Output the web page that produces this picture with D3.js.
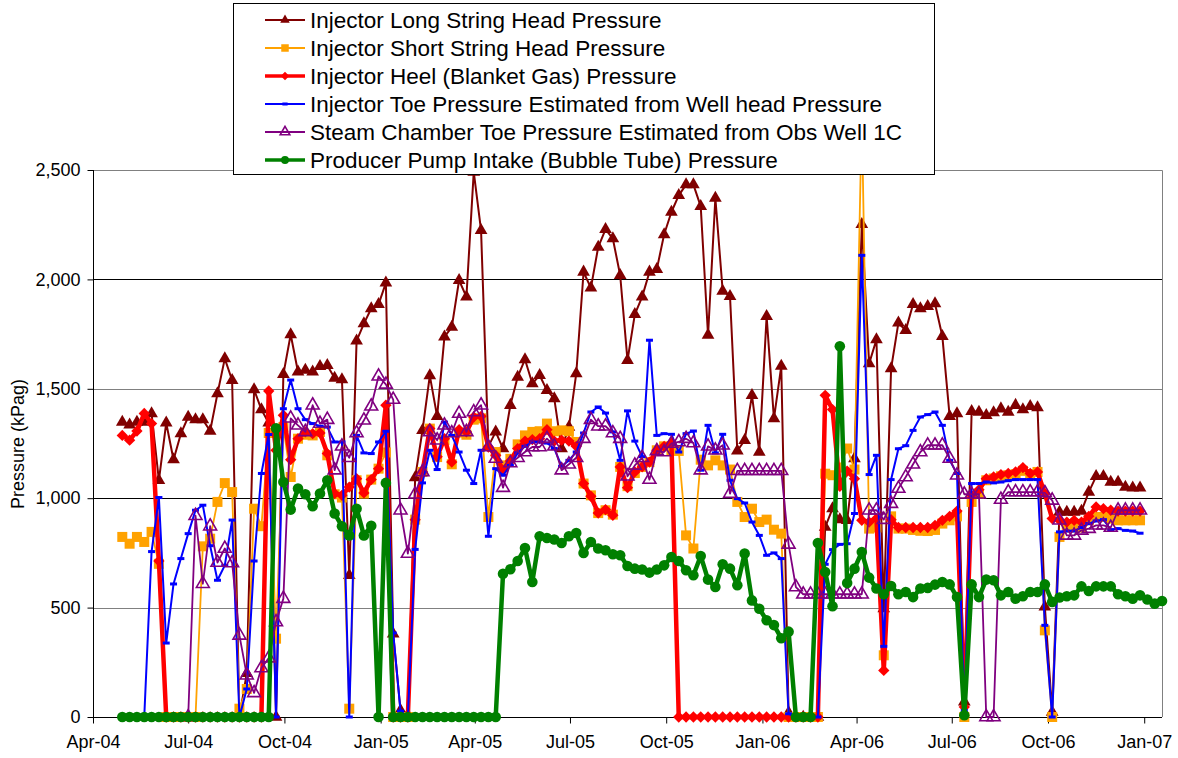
<!DOCTYPE html>
<html>
<head>
<meta charset="utf-8">
<script src="https://cdn.jsdelivr.net/npm/d3@7"></script>
<style>
  body { margin: 0; background: #fff; }
  text { font-family: "Liberation Sans", Arial, sans-serif; }
</style>
</head>
<body>
<script>
// weekly readings, first one on 29 Apr 2004
const firstReading = new Date(2004, 3, 29);
const readingCount = 143;

const seriesNames = [
  'Injector Long String Head Pressure',
  'Injector Short String Head Pressure',
  'Injector Heel (Blanket Gas) Pressure',
  'Injector Toe Pressure Estimated from Well head Pressure',
  'Steam Chamber Toe Pressure Estimated from Obs Well 1C',
  'Producer Pump Intake (Bubble Tube) Pressure'
];

const longString = [1348,1335,1348,1348,1387,1082,1344,1176,1295,1371,
  1359,1359,1307,1478,1638,1539,0,200,1496,1405,
  1344,0,1566,1748,1577,1585,1577,1603,1607,1549,
  1542,648,1719,1798,1867,1886,1984,380,30,10,
  1094,1310,1560,1374,1737,1782,1996,1920,2491,2224,
  1237,1303,1227,1425,1554,1634,1524,1562,1493,1455,
  1227,1325,1569,2034,1961,2148,2229,2186,2019,1630,
  1840,1920,2034,2046,2205,2308,2384,2433,2433,2334,
  1745,2372,1947,1923,1216,1265,1470,1211,1831,1364,
  1604,20,0,0,0,0,868,952,902,899,
  1181,2252,1615,1725,495,1592,1801,1767,1886,1867,
  1877,1889,1740,1374,1387,69,1397,1394,1379,1391,
  1409,1394,1425,1405,1420,1414,503,23,937,937,
  937,941,1028,1100,1100,1074,1074,1051,1047,1047];

const shortString = [823,792,823,800,846,700,0,0,0,0,
  0,780,815,983,1069,1028,38,128,952,872,
  1298,358,1325,1097,1272,1290,1287,1303,1196,1018,
  1003,38,1082,1021,1085,1135,1209,0,0,0,
  902,1120,1318,1188,1265,1155,1300,1290,1359,1365,
  914,1211,1150,1180,1246,1287,1303,1306,1341,1306,
  1310,1306,1257,1067,1013,932,945,925,1143,1055,
  1115,1143,1165,1219,1237,1219,1216,830,770,1176,
  1150,1173,1150,1131,983,914,952,891,902,856,
  838,0,0,0,0,0,1112,1105,1140,1227,
  1131,2750,861,866,282,917,861,861,855,851,
  850,855,884,899,917,0,983,1021,1082,1090,
  1100,1105,1110,1125,1110,1120,396,0,823,866,
  866,866,899,914,914,907,899,899,899,899];

const heelGas = [1287,1265,1307,1387,1341,713,0,0,0,0,
  0,0,0,0,0,0,0,0,0,0,
  1490,1219,1379,1176,1272,1303,1295,1298,1204,1021,
  1013,1051,1089,1024,1085,1135,1425,0,0,0,
  902,1120,1318,1190,1272,1165,1313,1303,1371,1374,
  1234,1196,1128,1170,1227,1261,1268,1272,1313,1261,
  1265,1261,1237,1067,1009,932,948,922,1143,1048,
  1120,1143,1165,1219,1237,1252,0,0,0,0,
  0,0,0,0,0,0,0,0,0,0,
  0,0,0,0,0,0,1470,1405,1054,1124,
  1089,899,891,907,213,902,866,866,866,866,
  866,876,899,917,941,46,1013,1039,1089,1097,
  1108,1113,1120,1140,1113,1120,1021,907,899,891,
  899,891,917,960,952,945,941,941,941,941];

const toeEstimate = [0,0,0,0,756,1003,338,608,724,838,
  945,968,783,625,693,900,0,128,713,1113,
  1291,0,1409,1540,1409,1359,1341,1329,1325,1257,
  1257,0,1287,1207,1204,1257,1306,384,27,0,
  766,1070,1219,1131,1348,1287,1211,1128,1067,1219,
  826,1135,1105,1150,1207,1237,1257,1257,1252,1227,
  1146,1173,1211,1298,1394,1417,1389,1303,1173,1399,
  1261,1190,1722,1287,1295,1292,1211,1295,1307,1128,
  1333,1207,1292,1082,998,978,891,830,739,750,
  724,15,0,0,0,0,698,765,789,792,
  930,2110,1108,1196,323,1085,1226,1240,1310,1371,
  1382,1394,1333,1173,1113,30,1067,1067,1074,1070,
  1074,1080,1085,1085,1085,1085,419,0,846,850,
  850,866,884,896,902,856,861,853,850,840];

const steamChamber = [null,null,null,null,null,null,null,null,null,0,
  920,609,872,706,770,704,373,191,110,224,
  269,434,541,1365,1333,1303,1425,1341,1359,1128,
  1237,1185,1298,1356,1420,1557,1520,1451,945,747,
  1018,1120,1303,1265,1333,1298,1387,1303,1394,1425,
  1234,1181,1048,1161,1185,1211,1234,1234,1272,1237,
  1128,1155,1185,1272,1359,1329,1329,1298,1272,1100,
  1150,1185,1085,1216,1211,1250,1257,1272,1252,1128,
  1237,1219,1242,1021,1125,1125,1125,1125,1125,1125,
  1125,789,594,561,561,561,561,561,561,561,
  561,561,945,945,902,975,1044,1097,1155,1211,
  1242,1242,1242,1181,1105,1018,1018,1018,0,0,
  994,1028,1028,1028,1028,1028,1024,990,899,830,
  830,853,861,876,876,866,945,945,945,945];

const pumpIntake = [0,0,0,0,0,0,0,0,0,0,
  0,0,0,0,0,0,0,0,0,0,
  0,1320,1074,948,1044,1018,963,1021,1082,930,
  872,830,952,830,874,0,1070,0,0,0,
  0,0,0,0,0,0,0,0,0,0,
  0,0,655,675,713,772,617,826,818,811,
  795,826,841,750,800,770,762,744,739,690,
  678,674,660,674,693,731,713,671,648,736,
  628,594,698,678,602,747,533,495,442,420,
  360,390,0,0,0,795,663,506,1694,612,
  678,754,637,587,561,599,561,571,548,587,
  590,605,617,606,548,8,606,548,628,625,
  556,571,541,552,571,571,606,526,546,552,
  556,597,576,597,597,597,561,552,541,556,
  537,518,530];

const yTicks = [0, 500, 1000, 1500, 2000, 2500];
const xTicks = ['2004-04-01','2004-07-01','2004-10-01','2005-01-01','2005-04-01','2005-07-01',
  '2005-10-01','2006-01-01','2006-04-01','2006-07-01','2006-10-01','2007-01-01'];

const width = 1178, height = 758;
const plot = { left: 93, right: 1162, top: 170, bottom: 717 };

const dates = d3.range(readingCount).map(i => d3.timeDay.offset(firstReading, 7 * i));

const x = d3.scaleTime()
  .domain([new Date(2004, 3, 1), new Date(2007, 0, 18)])
  .range([plot.left, plot.right]);
const y = d3.scaleLinear().domain([0, 2500]).range([plot.bottom, plot.top]);

const svg = d3.select('body').append('svg')
  .attr('width', width).attr('height', height);

svg.append('defs').append('clipPath').attr('id', 'clip')
  .append('rect').attr('x', 0).attr('y', plot.top).attr('width', width).attr('height', height - plot.top);

// gridlines
[500, 1000, 1500, 2000].forEach(v => {
  svg.append('line')
    .attr('x1', plot.left).attr('x2', plot.right)
    .attr('y1', Math.round(y(v)) + 0.5).attr('y2', Math.round(y(v)) + 0.5)
    .attr('stroke', (v % 1000 === 0) ? '#000' : '#808080');
});
// plot frame top/right
svg.append('path')
  .attr('d', `M${plot.left},${plot.top + 0.5}H${plot.right + 0.5}V${plot.bottom}`)
  .attr('fill', 'none').attr('stroke', '#808080');

// axes
const yAxis = svg.append('g')
  .attr('transform', `translate(${plot.left + 0.5},0)`)
  .call(d3.axisLeft(y).tickValues(yTicks).tickFormat(d3.format(',')).tickSize(6).tickPadding(7));
yAxis.select('.domain').remove();
yAxis.selectAll('line').attr('stroke', '#000');
yAxis.selectAll('text').attr('font-size', 18).attr('fill', '#000')
  .style('font-family', '"Liberation Sans", Arial, sans-serif');
svg.append('line').attr('x1', plot.left + 0.5).attr('x2', plot.left + 0.5)
  .attr('y1', plot.top).attr('y2', plot.bottom).attr('stroke', '#000');

const xAxis = svg.append('g')
  .attr('transform', `translate(0,${plot.bottom + 0.5})`)
  .call(d3.axisBottom(x).tickValues(xTicks.map(d => d3.timeParse('%Y-%m-%d')(d)))
    .tickFormat(d3.timeFormat('%b-%y')).tickSize(6).tickPadding(12));
xAxis.select('.domain').remove();
xAxis.selectAll('line').attr('stroke', '#000');
xAxis.selectAll('text').attr('font-size', 18).attr('fill', '#000')
  .style('font-family', '"Liberation Sans", Arial, sans-serif');
svg.append('line').attr('x1', plot.left).attr('x2', plot.right)
  .attr('y1', plot.bottom + 0.5).attr('y2', plot.bottom + 0.5).attr('stroke', '#000');

svg.append('text')
  .attr('transform', `translate(24,444) rotate(-90)`)
  .attr('text-anchor', 'middle').attr('font-size', 18)
  .text('Pressure (kPag)');

// markers
function drawMarker(g, type, color, scale) {
  const s = scale || 1;
  if (type === 'triangle') {
    g.append('path').attr('d', d3.symbol(d3.symbolTriangle, 70 * s * s)()).attr('fill', color);
  } else if (type === 'square') {
    g.append('rect').attr('x', -5 * s).attr('y', -5 * s).attr('width', 10 * s).attr('height', 10 * s).attr('fill', color);
  } else if (type === 'diamond') {
    g.append('path').attr('d', d3.symbol(d3.symbolSquare, 64 * s * s)()).attr('transform', 'rotate(45)').attr('fill', color);
  } else if (type === 'dash') {
    g.append('rect').attr('x', -3.5 * s).attr('y', -1.5).attr('width', 7 * s).attr('height', 3).attr('fill', color);
  } else if (type === 'openTriangle') {
    g.append('path').attr('d', d3.symbol(d3.symbolTriangle, 72 * s * s)())
      .attr('fill', 'none').attr('stroke', color).attr('stroke-width', 1.6);
  } else if (type === 'circle') {
    g.append('circle').attr('r', 5.3 * s).attr('fill', color);
  }
}

const series = [
  { data: longString, color: '#800000', width: 2, marker: 'triangle' },
  { data: shortString, color: '#FFA200', width: 1.8, marker: 'square' },
  { data: heelGas, color: '#FF0000', width: 4.5, marker: 'diamond' },
  { data: toeEstimate, color: '#0000FF', width: 2, marker: 'dash' },
  { data: steamChamber, color: '#800080', width: 1.8, marker: 'openTriangle' },
  { data: pumpIntake, color: '#008000', width: 4.5, marker: 'circle' }
];

const line = d3.line()
  .defined(d => d.v != null)
  .x(d => x(d.date))
  .y(d => y(d.v));

const plotG = svg.append('g').attr('clip-path', 'url(#clip)');

series.forEach(s => {
  const pts = s.data.map((v, i) => ({ date: dates[i], v: v }));
  const g = plotG.append('g');
  g.append('path')
    .datum(pts)
    .attr('d', line)
    .attr('fill', 'none')
    .attr('stroke', s.color)
    .attr('stroke-width', s.width)
    .attr('stroke-linejoin', 'round');
  g.selectAll('g.mk')
    .data(pts.filter(d => d.v != null))
    .join('g')
    .attr('class', 'mk')
    .attr('transform', d => `translate(${x(d.date)},${y(d.v)})`)
    .each(function() { drawMarker(d3.select(this), s.marker, s.color); });
});

// legend
const legend = svg.append('g');
legend.append('rect')
  .attr('x', 233.5).attr('y', 3.5).attr('width', 701).attr('height', 171)
  .attr('fill', '#fff').attr('stroke', '#000');
seriesNames.forEach((name, k) => {
  const s = series[k];
  const ly = 20 + 28 * k;
  legend.append('line')
    .attr('x1', 265).attr('x2', 305).attr('y1', ly).attr('y2', ly)
    .attr('stroke', s.color).attr('stroke-width', s.width > 3 ? 3.5 : 1.8);
  const mg = legend.append('g').attr('transform', `translate(285,${ly})`);
  drawMarker(mg, s.marker, s.color, 0.75);
  legend.append('text')
    .attr('x', 310).attr('y', ly).attr('dy', '0.35em')
    .attr('font-size', 22.5)
    .text(name);
});
</script>
</body>
</html>
